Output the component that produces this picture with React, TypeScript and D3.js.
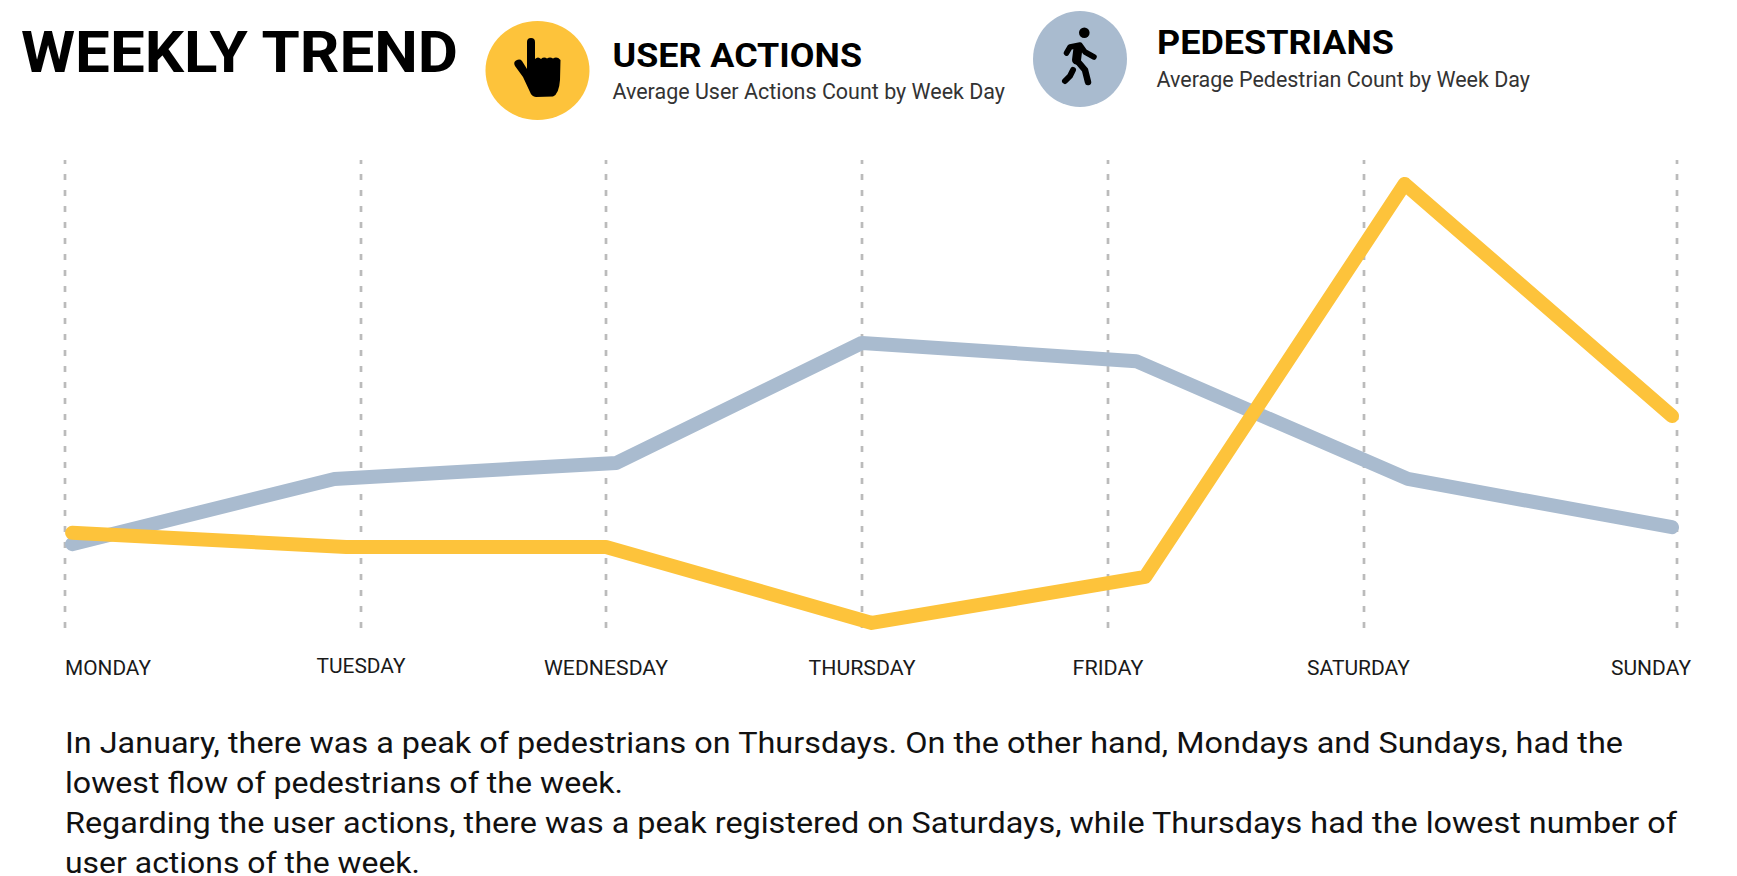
import * as d3 from 'd3'

const days = ['MONDAY', 'TUESDAY', 'WEDNESDAY', 'THURSDAY', 'FRIDAY', 'SATURDAY', 'SUNDAY']

// fractional day position of each vertex: the lines do not sit exactly on the gridlines
const userActionDays = [0.024, 0.95, 2.0, 3.04, 4.145, 5.13, 5.984]
const userActions = [20.5, 17.5, 17.5, 1.3, 11.1, 94.9, 45.4]
const pedestrianDays = [0.024, 0.91, 2.04, 3.0, 4.11, 5.14, 5.984]
const pedestrians = [18.1, 32, 35.4, 61, 57.1, 32, 21.7]

const bodyLines = [
  'In January, there was a peak of pedestrians on Thursdays. On the other hand, Mondays and Sundays, had the',
  'lowest flow of pedestrians of the week.',
  'Regarding the user actions, there was a peak registered on Saturdays, while Thursdays had the lowest number of',
  'user actions of the week.',
]

const W = 1737
const H = 876
const YELLOW = '#fdc33b'
const BLUE = '#a9bbcf'
const FONT = 'Roboto, "Noto Sans", sans-serif'

const x = d3.scaleLinear().domain([0, 1, 2, 3, 4, 5, 6]).range([65, 361, 606, 862, 1108, 1364, 1677])
const y = d3.scaleLinear().domain([0, 100]).range([629, 160])

const lineGen = d3.line<[number, number]>().x(d => x(d[0])).y(d => y(d[1]))

// label tweaks, the source has them hand placed
const labelShift = [43, 0, 0, 0, 0, -5.5, -26]
const labelBase = [675, 673, 675, 675, 675, 675, 675]
const labelWidth = [86, 89, 124, 107, 71, 103, 80]
const bodyWidth = [1558, 558, 1612, 355]
const bodyBase = [753, 793, 833, 873]

export default function App() {
  return (
    <svg width={W} height={H} style={{ position: 'absolute', left: 0, top: 0, background: '#fff' }} fontFamily={FONT}>
      <text x={21} y={72} fontSize={57} fontWeight={700} fill="#000" textLength={437} lengthAdjust="spacingAndGlyphs">WEEKLY TREND</text>

      <ellipse cx={537.5} cy={70.5} rx={52} ry={49.5} fill={YELLOW} />
      <path
        transform="translate(500,30)"
        fill="#000"
        d="M27 12 A4 4 0 0 1 35 12 L35 29 Q38 26 41 29 Q44 26.5 47 28.5 Q50 26.5 53 28.5 Q57 26 60.5 30 L60 50 Q59 64 53 66.5 L36 67 Q31.5 66.5 30 62 L23 47 L15 36 Q13 32 16 30.5 Q20 28.5 22 31 L27 39 Z"
      />
      <text x={612.5} y={67} fontSize={33} fontWeight={700} fill="#000" textLength={249.5} lengthAdjust="spacingAndGlyphs">USER ACTIONS</text>
      <text x={612.5} y={99} fontSize={22} fill="#333" textLength={392.5} lengthAdjust="spacingAndGlyphs">Average User Actions Count by Week Day</text>

      <ellipse cx={1080} cy={59} rx={47} ry={48} fill={BLUE} />
      <g transform="translate(1045,20)" fill="none" stroke="#000" strokeLinecap="round" strokeLinejoin="round">
        <circle cx={39.3} cy={12.7} r={5.3} fill="#000" stroke="none" />
        <path strokeWidth={5.5} d="M21.5 33 L25 27 L35 25 L40 32 L49 37" />
        <path strokeWidth={9} d="M33 28 L31.5 40" />
        <path strokeWidth={6.5} d="M31.5 40 L40 50 L43 62" />
        <path strokeWidth={6} d="M28 50 L25 56 L20 61" />
      </g>
      <text x={1157} y={54} fontSize={33} fontWeight={700} fill="#000" textLength={237} lengthAdjust="spacingAndGlyphs">PEDESTRIANS</text>
      <text x={1156.5} y={87} fontSize={22} fill="#333" textLength={373.5} lengthAdjust="spacingAndGlyphs">Average Pedestrian Count by Week Day</text>

      {days.map((d, i) => (
        <line key={d} x1={x(i)} x2={x(i)} y1={y(100)} y2={y(0)} stroke="#bbb" strokeWidth={2.7} strokeDasharray="6 10" strokeDashoffset={2} />
      ))}

      <path
        d={lineGen(pedestrianDays.map((d, i) => [d, pedestrians[i]] as [number, number])) ?? ''}
        fill="none" stroke={BLUE} strokeWidth={14} strokeLinecap="round" strokeLinejoin="round"
      />
      <path
        d={lineGen(userActionDays.map((d, i) => [d, userActions[i]] as [number, number])) ?? ''}
        fill="none" stroke={YELLOW} strokeWidth={14} strokeLinecap="round" strokeLinejoin="round"
      />

      {days.map((d, i) => (
        <text key={d} x={x(i) + labelShift[i]} y={labelBase[i]} textAnchor="middle" fontSize={21} fill="#1a1a1a"
          textLength={labelWidth[i]} lengthAdjust="spacingAndGlyphs">{d}</text>
      ))}

      {bodyLines.map((t, i) => (
        <text key={i} x={65} y={bodyBase[i]} fontSize={29} fill="#111" textLength={bodyWidth[i]} lengthAdjust="spacingAndGlyphs">{t}</text>
      ))}
    </svg>
  )
}
